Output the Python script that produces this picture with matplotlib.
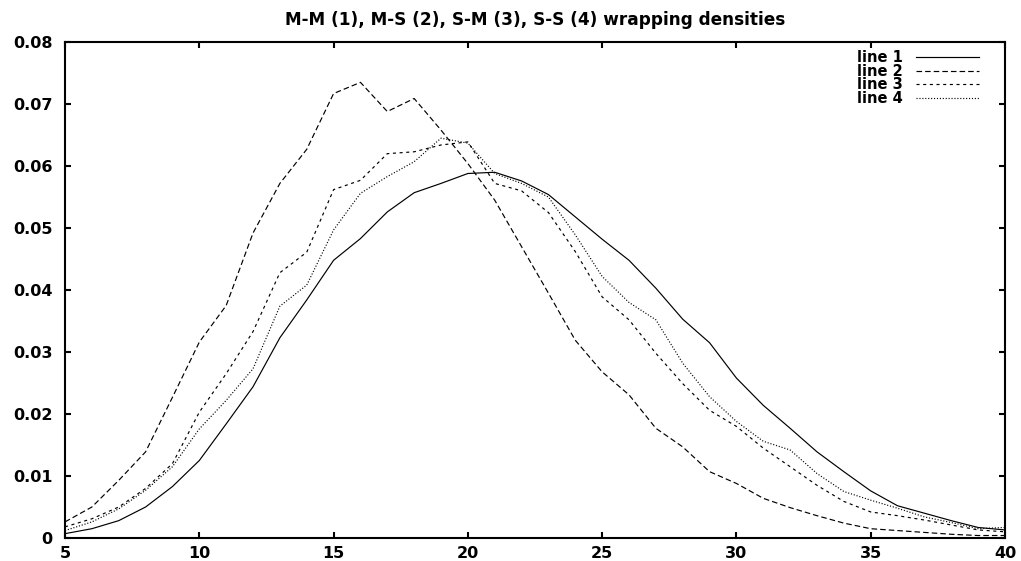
import matplotlib
matplotlib.use('Agg')
import matplotlib.pyplot as plt
from matplotlib.ticker import MultipleLocator, FuncFormatter

# данные
x = list(range(5, 41))
line1 = [0.0007, 0.0015, 0.0028, 0.0050, 0.0083, 0.0125, 0.0184, 0.0244, 0.0323, 0.0384,
         0.0448, 0.0483, 0.0526, 0.0557, 0.0572, 0.0588, 0.0590, 0.0576, 0.0554, 0.0518,
         0.0482, 0.0448, 0.0403, 0.0353, 0.0315, 0.0258, 0.0214, 0.0177, 0.0139, 0.0107,
         0.0076, 0.0052, 0.0040, 0.0028, 0.0017, 0.0013]
line2 = [0.0026, 0.0050, 0.0093, 0.0139, 0.0227, 0.0316, 0.0375, 0.0492, 0.0572, 0.0627,
         0.0717, 0.0735, 0.0688, 0.0709, 0.0658, 0.0604, 0.0545, 0.0470, 0.0395, 0.0319,
         0.0268, 0.0231, 0.0177, 0.0147, 0.0107, 0.0088, 0.0064, 0.0049, 0.0036, 0.0024,
         0.0015, 0.0012, 0.0009, 0.0006, 0.0004, 0.0004]
line3 = [0.0018, 0.0031, 0.0050, 0.0080, 0.0120, 0.0203, 0.0265, 0.0333, 0.0428, 0.0461,
         0.0562, 0.0577, 0.0620, 0.0623, 0.0634, 0.0639, 0.0572, 0.0560, 0.0525, 0.0462,
         0.0389, 0.0352, 0.0298, 0.0249, 0.0206, 0.0180, 0.0145, 0.0115, 0.0085, 0.0059,
         0.0042, 0.0036, 0.0029, 0.0021, 0.0013, 0.0010]
line4 = [0.0012, 0.0026, 0.0047, 0.0077, 0.0115, 0.0176, 0.0222, 0.0273, 0.0374, 0.0408,
         0.0497, 0.0556, 0.0583, 0.0607, 0.0645, 0.0637, 0.0588, 0.0572, 0.0550, 0.0489,
         0.0422, 0.0380, 0.0352, 0.0282, 0.0228, 0.0188, 0.0156, 0.0142, 0.0104, 0.0075,
         0.0061, 0.0048, 0.0034, 0.0025, 0.0015, 0.0017]
labels = ['line 1', 'line 2', 'line 3', 'line 4']
title = 'M-M (1), M-S (2), S-M (3), S-S (4) wrapping densities'

plt.rcParams['font.family'] = 'DejaVu Sans'
plt.rcParams['font.weight'] = 'bold'
plt.rcParams['lines.scale_dashes'] = False

fig = plt.figure(figsize=(10.21, 5.61), dpi=100)
ax = fig.add_axes([0.0637, 0.041, 0.9206, 0.884])

lw = 0.85
ax.plot(x, line1, color='black', lw=lw, label=labels[0])
ax.plot(x, line2, color='black', lw=lw, dashes=(4.0, 2.2), label=labels[1])
ax.plot(x, line3, color='black', lw=lw, dashes=(2.2, 2.6), label=labels[2])
ax.plot(x, line4, color='black', lw=lw, dashes=(0.8, 1.3), label=labels[3])

ax.set_xlim(5, 40)
ax.set_ylim(0, 0.08)
ax.xaxis.set_major_locator(MultipleLocator(5))
ax.yaxis.set_major_locator(MultipleLocator(0.01))
ax.yaxis.set_major_formatter(FuncFormatter(lambda v, p: '%g' % round(v, 4)))

for s in ax.spines.values():
    s.set_linewidth(1.5)
ax.tick_params(direction='in', top=True, right=True, length=4, width=1.5,
               labelsize=11.5)
ax.tick_params(axis='y', pad=9)
ax.tick_params(axis='x', pad=6)

ax.set_title(title, fontsize=12.2, fontweight='bold', pad=12)

ax.legend(loc='upper right', bbox_to_anchor=(0.98, 0.998), frameon=False,
          markerfirst=False, fontsize=10.5, handlelength=4.3,
          handletextpad=0.9, labelspacing=-0.1, borderpad=0)

fig.savefig('out.png', dpi=100)
